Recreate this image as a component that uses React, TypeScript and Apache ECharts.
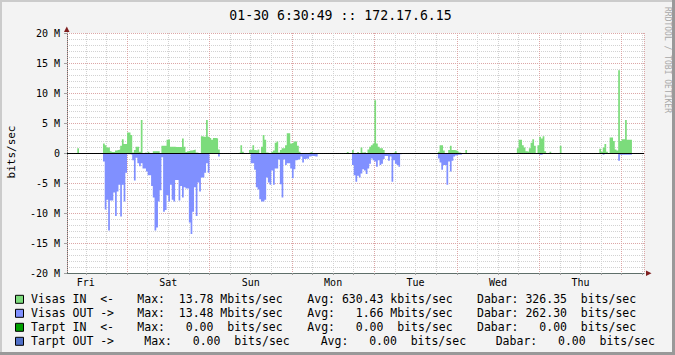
import React, { useEffect, useRef } from 'react';
import * as echarts from 'echarts';

// ---------- texts ----------
const TITLE = '01-30 6:30:49 :: 172.17.6.15';
const Y_TITLE = 'bits/sec';
const WATERMARK = 'RRDTOOL / TOBI OETIKER';
const DAY_NAMES = ['Fri', 'Sat', 'Sun', 'Mon', 'Tue', 'Wed', 'Thu'];

// ---------- axes (hours after Fri 00:00, Mbit/s) ----------
const X_START = 6.514;
const X_END = X_START + 168;
const SLOT = 0.5; // 30-minute samples
const SLOT_FIRST = 6.5;
const SLOT_COUNT = 337;
const Y_MIN = -20;
const Y_MAX = 20;
const Y_STEP = 5;

// ---------- data: 30-minute averages in Mbit/s, each block starts at an hour ----------
const START_FRI = 9.5;
const IN_FRI = [0.8];
const OUT_FRI = [0];

const START_A = 16; // Fri 16:00 .. Sun 02:00
const IN_A = [0, 0, 1.6, 1.3, 0.9, 0.9, 0.3, 0.15, 0.15, 0.4,
  0.5, 0.6, 1.2, 2.3, 1.5, 1.5, 3.4, 3.4, 3.0, 0.1,
  0.5, 1.05, 1.05, 0.2, 5.5, 0, 0.1, 0, 0.2, 0,
  0, 0.3, 0.3, 0.3, 0.3, 0, 1.2, 1.2, 1.2, 2.2,
  2.3, 1.05, 1.05, 1.05, 1.0, 1.0, 1.0, 1.0, 2.4, 1.05,
  0.15, 0.3, 0.4, 0.4, 0.5, 0.6, 0.1, 0, 0, 2.8,
  2.7, 2.7, 5.5, 2.7, 2.5, 2.2, 2.5, 2.5];
const OUT_A = [0, 0, 1.4, 9.4, 7.8, 12.9, 7.9, 7.9, 6.6, 10.5,
  6.4, 5.3, 10.6, 5.3, 8.1, 3.3, 0.2, 0.2, 0.3, 1.2,
  4.6, 0.8, 1.7, 2.2, 1.7, 2.6, 2.6, 3.1, 3.7, 3.7,
  5.5, 7.4, 12.9, 12.4, 8.1, 6.2, 0.7, 9.8, 9.5, 7.0,
  8.1, 5.3, 7.8, 8.1, 4.5, 4.5, 7.9, 5.5, 7.4, 5.7,
  5.9, 5.9, 11.6, 13.48, 9.8, 5.7, 10.5, 4.9, 6.4, 4.1,
  4.1, 3.3, 1.7, 3.3, 0.1, 0.1, 0.1, 0.1];

const START_B = 50; // Sun 02:00 .. Mon 07:30
const IN_B = [2.4, 0.6, 0, 0, 0, 0, 0, 0, 0, 0,
  0, 0, 0, 0.1, 1.3, 0.2, 0, 0, 0, 0.5,
  0.6, 1.3, 0.5, 0.4, 0.6, 0, 1.05, 3.0, 2.2, 0.1,
  0, 0, 0.2, 0.4, 1.7, 1.9, 0.1, 0.5, 0.8, 0.8,
  1.3, 3.3, 3.3, 1.6, 1.7, 1.9, 1.9, 1.2, 0.2, 0,
  0, 0, 0, 0, 0.1, 0.2, 0, 0, 0];
const OUT_B = [0.1, 0.6, 0, 0, 0, 0, 0, 0, 0, 0,
  0, 0, 0, 0, 0, 0, 0, 0, 0, 0,
  1.7, 1.7, 2.8, 5.7, 6.1, 7.7, 8.1, 8.1, 7.8, 4.1,
  4.9, 5.3, 2.9, 5.3, 2.6, 2.6, 1.1, 5.2, 7.4, 1.1,
  2.0, 1.7, 1.7, 2.6, 4.2, 2.7, 1.2, 1.1, 1.0, 0.6,
  1.6, 1.0, 0.9, 1.0, 0.6, 0.5, 0.5, 0.6, 0.6];

const START_C = 85; // Mon 13:00 .. Wed 03:00
const IN_C = [0, 0, 0, 0, 0, 0, 0.15, 0, 0, 0.5,
  0, 0, 0.15, 0, 0.9, 0.1, 0.15, 0, 0.6, 1.05,
  1.3, 1.6, 8.8, 1.6, 1.05, 0.8, 0.8, 0.5, 0, 0,
  0, 0, 0, 0.1, 0.3, 0, 0, 0, 0, 0,
  0, 0, 0, 0, 0, 0, 0, 0, 0, 0,
  0, 0, 0, 0, 0, 0, 0, 0, 0, 0.2,
  1.3, 1.3, 0.4, 0, 0, 0.5, 1.2, 0.5, 0.5, 0.4,
  0.3, 0.1, 0, 0, 0, 0.5];
const OUT_C = [0, 0, 0, 0, 0, 0, 0, 0, 0, 2.0,
  3.7, 4.8, 3.8, 4.1, 3.4, 2.7, 2.9, 3.5, 2.6, 1.8,
  0.9, 1.2, 1.4, 2.3, 1.2, 2.0, 1.8, 1.0, 0.5, 0.5,
  1.3, 0.6, 4.8, 1.2, 1.8, 2.0, 2.3, 0.2, 0, 0,
  0, 0, 0, 0, 0, 0, 0, 0, 0, 0,
  0, 0, 0, 0, 0, 0, 0, 0, 0, 0.9,
  1.6, 2.8, 2.0, 2.0, 5.3, 1.4, 3.1, 1.3, 0.6, 0.4,
  0.3, 0.3, 0.3, 0, 0, 0];

const START_D = 133; // Wed 13:00 .. Fri 03:00
const IN_D = [0, 0, 0, 0, 0, 0, 0, 0, 0, 0.8,
  2.2, 2.2, 1.3, 0.9, 0.3, 0.2, 0.8, 1.7, 2.3, 1.2,
  0, 1.3, 2.7, 2.4, 2.8, 0.3, 0, 0, 0.2, 0,
  0, 0, 0, 0, 1.2, 0, 0, 0, 0, 0,
  0, 0, 0, 0, 0, 0, 0, 0, 0, 0,
  0, 0, 0, 0, 0, 0, 0, 0.7, 0.2, 0.9,
  1.5, 0.2, 0, 2.6, 2.6, 2.0, 0.6, 0.4, 13.78, 2.0,
  2.3, 2.3, 5.5, 2.2, 2.2, 2.2];
const OUT_D = [0, 0, 0, 0, 0, 0, 0, 0, 0, 0,
  0, 0, 0, 0, 0, 0, 0, 0, 0, 0,
  0, 0, 0.3, 0.3, 0, 0, 0, 0, 0, 0,
  0, 0, 0, 0, 0, 0, 0, 0, 0, 0,
  0, 0, 0, 0, 0, 0, 0, 0, 0, 0,
  0, 0, 0, 0, 0, 0, 0, 0, 0, 0.3,
  0, 0, 0, 0, 0, 0, 0, 0, 1.3, 0.3,
  0.3, 0.3, 0.3, 0.3, 0.3, 0.3];

// ---------- legend ----------
const LEG_NAMES = ['Visas IN', 'Visas OUT', 'Tarpt IN', 'Tarpt OUT'];
const LEG_ARROWS = ['<-', '->', '<-', '->'];
const LEG_COLORS = ['#7CDC7C', '#8090FF', '#00A000', '#5070C8'];
const MAX_VALS = ['13.78', '13.48', '0.00', '0.00'];
const MAX_PREFIX = ['M', 'M', '', ''];
const AVG_VALS = ['630.43', '1.66', '0.00', '0.00'];
const AVG_PREFIX = ['k', 'M', '', ''];
const CUR_VALS = ['326.35', '262.30', '0.00', '0.00'];
const CUR_PREFIX = ['', '', '', ''];
const UNIT = 'bits/sec';

// ---------- layout / style ----------
const FONT = '"DejaVu Sans Mono", monospace';
const LEG_SIZE = 11.5;
const CH = 6.92; // monospace advance at LEG_SIZE
const GRID_C = '#D2D2D2';
const MGRID_C = '#DCA6A6';
const AXIS_C = '#5F6F6A';
const ARROW_C = '#7F1F1F';
const ROW_Y = [299.3, 313.3, 327.3, 341.3];
const LX_NAME = 31;
const LX_MAX = [137.3, 137.3, 137.3, 144.3];
const LX_AVG = [307.3, 307.3, 307.3, 320.7];
const LX_CUR = [477, 477, 477, 495.7];

function buildSeries(blocks: [number, number[]][], sign: number): [number, number][] {
  const vals = new Array(SLOT_COUNT).fill(0);
  blocks.forEach(([start, arr]) => {
    const base = Math.round((start - SLOT_FIRST) / SLOT);
    arr.forEach((v, i) => {
      if (base + i >= 0 && base + i < SLOT_COUNT) vals[base + i] = v;
    });
  });
  const out: [number, number][] = vals.map((v, i) => [SLOT_FIRST + i * SLOT, sign * v]);
  out.push([SLOT_FIRST + SLOT_COUNT * SLOT, sign * vals[SLOT_COUNT - 1]]);
  return out;
}

function txt(x: number, y: number, text: string, size: number, extra: any = {}) {
  return {
    type: 'text',
    x,
    y,
    silent: true,
    style: {
      text,
      fontSize: size,
      fontFamily: FONT,
      fill: '#000',
      textAlign: 'left',
      verticalAlign: 'middle',
      textVerticalAlign: 'middle',
      ...extra,
    },
  };
}

// one GPRINT-like item: label, number right-aligned in a 6-wide field, then unit
function gprint(x0: number, y: number, label: string, numCol: number, value: string, prefix: string) {
  const items: any[] = [];
  items.push(txt(x0, y, label, LEG_SIZE));
  const vCol = numCol + (6 - value.length);
  items.push(txt(x0 + vCol * CH, y, value, LEG_SIZE));
  const uCol = numCol + 7 + (prefix ? 0 : 1);
  items.push(txt(x0 + uCol * CH, y, prefix + UNIT, LEG_SIZE));
  return items;
}

export default function App() {
  const ref = useRef<HTMLDivElement>(null);

  useEffect(() => {
    const chart = echarts.init(ref.current!, null, { renderer: 'svg', width: 675, height: 355 });

    const inData = buildSeries([[START_FRI, IN_FRI], [START_A, IN_A], [START_B, IN_B], [START_C, IN_C], [START_D, IN_D]], 1);
    const outData = buildSeries([[START_FRI, OUT_FRI], [START_A, OUT_A], [START_B, OUT_B], [START_C, OUT_C], [START_D, OUT_D]], -1);

    const legend: any[] = [];
    LEG_NAMES.forEach((name, i) => {
      const y = ROW_Y[i];
      legend.push({
        type: 'rect',
        silent: true,
        shape: { x: 15.5, y: y - 4, width: 8, height: 8 },
        style: { fill: LEG_COLORS[i], stroke: '#000', lineWidth: 1 },
      });
      legend.push(txt(LX_NAME, y, name, LEG_SIZE));
      legend.push(txt(LX_NAME + 10 * CH, y, LEG_ARROWS[i], LEG_SIZE));
      legend.push(...gprint(LX_MAX[i], y, 'Max:', 5, MAX_VALS[i], MAX_PREFIX[i]));
      legend.push(...gprint(LX_AVG[i], y, 'Avg:', 5, AVG_VALS[i], AVG_PREFIX[i]));
      legend.push(...gprint(LX_CUR[i], y, 'Dabar:', 7, CUR_VALS[i], CUR_PREFIX[i]));
    });

    const option: any = {
      animation: false,
      backgroundColor: '#F3F3F3',
      grid: {
        left: 67, top: 33, width: 577, height: 240,
        show: true, backgroundColor: '#FFFFFF', borderWidth: 0,
      },
      xAxis: [
        {
          type: 'value', min: X_START, max: X_END,
          splitNumber: 28, minInterval: 6, maxInterval: 6,
          axisLine: { show: true, onZero: false, lineStyle: { color: AXIS_C, width: 1 } },
          axisTick: { show: true, length: 2, lineStyle: { color: '#A0A0A0' } },
          axisLabel: {
            fontFamily: FONT, fontSize: 10, color: '#000', margin: 4,
            showMinLabel: false, showMaxLabel: false,
            formatter: (v: number) => {
              const r = ((v % 24) + 24) % 24;
              if (Math.abs(r - 12) < 1e-6) {
                const d = Math.floor(v / 24);
                return DAY_NAMES[d] ?? '';
              }
              return '';
            },
          },
          splitLine: { show: true, lineStyle: { color: GRID_C, type: [1, 1], width: 1 } },
        },
        {
          type: 'value', min: X_START, max: X_END, position: 'top',
          splitNumber: 7, minInterval: 24, maxInterval: 24, z: 1,
          axisLine: { show: false }, axisTick: { show: false }, axisLabel: { show: false },
          splitLine: { show: true, lineStyle: { color: MGRID_C, type: [1, 1], width: 1 } },
        },
      ],
      yAxis: {
        type: 'value', min: Y_MIN, max: Y_MAX, interval: Y_STEP,
        axisLine: { show: true, onZero: false, lineStyle: { color: AXIS_C, width: 1 } },
        axisTick: { show: true, length: 3, lineStyle: { color: '#A0A0A0' } },
        axisLabel: {
          fontFamily: FONT, fontSize: 10, color: '#000', margin: 7,
          formatter: (v: number) => (v === 0 ? '0' : `${v} M`),
        },
        splitLine: { show: true, lineStyle: { color: MGRID_C, type: [1, 1], width: 1 } },
        minorTick: { show: false, splitNumber: 5 },
        minorSplitLine: { show: true, lineStyle: { color: GRID_C, type: [1, 1], width: 1 } },
      },
      series: [
        {
          type: 'line', name: 'Visas IN', xAxisIndex: 0, yAxisIndex: 0,
          data: inData, step: 'end', symbol: 'none', showSymbol: false,
          lineStyle: { width: 0 }, areaStyle: { color: LEG_COLORS[0], opacity: 1 },
          z: 3, silent: true,
        },
        {
          type: 'line', name: 'Visas OUT', xAxisIndex: 0, yAxisIndex: 0,
          data: outData, step: 'end', symbol: 'none', showSymbol: false,
          lineStyle: { width: 0 }, areaStyle: { color: LEG_COLORS[1], opacity: 1 },
          z: 3, silent: true,
          markLine: {
            silent: true, symbol: 'none', label: { show: false },
            lineStyle: { color: '#000', width: 1, type: 'solid' },
            data: [{ yAxis: 0 }],
            z: 5,
          },
        },
      ],
      graphic: [
        { type: 'rect', silent: true, shape: { x: 0, y: 0, width: 675, height: 2 }, style: { fill: '#CBCBCB' } },
        { type: 'rect', silent: true, shape: { x: 0, y: 0, width: 2, height: 355 }, style: { fill: '#CBCBCB' } },
        { type: 'rect', silent: true, shape: { x: 0, y: 352, width: 675, height: 3 }, style: { fill: '#999999' } },
        { type: 'rect', silent: true, shape: { x: 672, y: 0, width: 3, height: 355 }, style: { fill: '#999999' } },
        { type: 'polygon', silent: true, shape: { points: [[64, 32], [69.5, 32], [66.8, 26.5]] }, style: { fill: ARROW_C } },
        { type: 'polygon', silent: true, shape: { points: [[646, 270.5], [646, 276], [651.5, 273.3]] }, style: { fill: ARROW_C } },
        txt(340.5, 15, TITLE, 13.2, { textAlign: 'center' }),
        { ...txt(11, 152, Y_TITLE, 11, { textAlign: 'center' }), rotation: Math.PI / 2 },
        { ...txt(667, 60, WATERMARK, 8, { textAlign: 'center', fill: '#A8A8A8' }), rotation: -Math.PI / 2 },
        ...legend,
      ],
    };

    chart.setOption(option);
    return () => chart.dispose();
  }, []);

  return <div ref={ref} style={{ position: 'fixed', left: 0, top: 0, width: 675, height: 355 }} />;
}
